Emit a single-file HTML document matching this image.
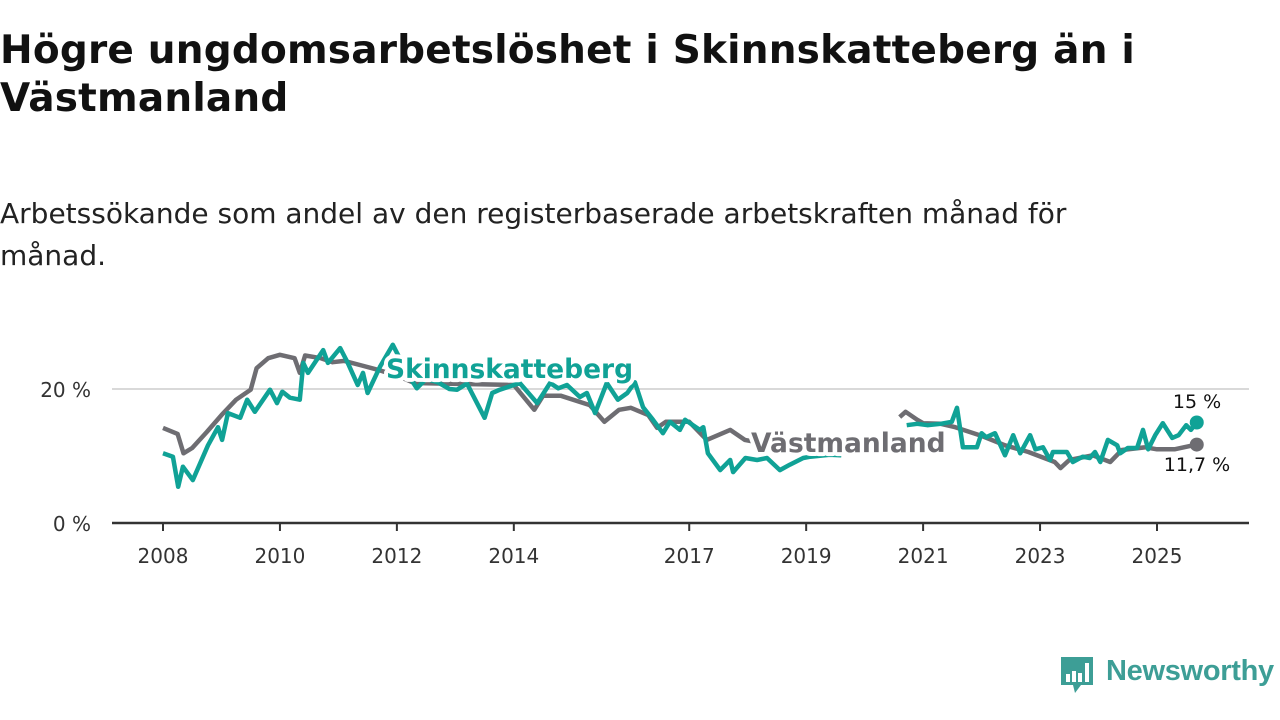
<!DOCTYPE html>
<html><head><meta charset="utf-8">
<style>
body{margin:0;width:1280px;height:720px;background:#fff;overflow:hidden;font-family:"DejaVu Sans","Liberation Sans",sans-serif;}
#title{position:absolute;left:0;top:27px;font-size:39px;font-weight:bold;line-height:48px;color:#111;width:1270px;white-space:nowrap;letter-spacing:0.2px;}
#subtitle{position:absolute;left:0;top:193px;font-size:28px;line-height:42px;color:#222;width:1270px;white-space:nowrap;}
svg{position:absolute;left:0;top:0;}
</style></head>
<body>
<div id="title">Högre ungdomsarbetslöshet i Skinnskatteberg än i<br>Västmanland</div>
<div id="subtitle">Arbetssökande som andel av den registerbaserade arbetskraften månad för<br>månad.</div>
<svg id="chart" width="1280" height="720"></svg>
<script>
const xTicks=[2008,2010,2012,2014,2017,2019,2021,2023,2025];
const yTicks=[0,20];
const yTickLabels=["0 %","20 %"];
const vastT=[2008.0,2008.25,2008.35,2008.5,2008.75,2009.0,2009.25,2009.5,2009.6,2009.8,2010.0,2010.25,2010.34,2010.43,2010.7,2010.9,2011.1,2011.4,2011.7,2012.0,2012.3,2012.8,2013.4,2014.0,2014.35,2014.5,2014.8,2015.3,2015.55,2015.8,2016.0,2016.3,2016.45,2016.6,2017.0,2017.3,2017.7,2017.95,2018.5,2019.0,2019.6,2019.7,2020.6,2020.7,2020.9,2021.0,2021.3,2021.55,2022.0,2022.4,2022.8,2023.25,2023.35,2023.5,2023.9,2024.2,2024.4,2024.8,2025.0,2025.3,2025.68];
const vastV=[14.2,13.3,10.4,11.2,13.6,16.1,18.4,19.9,23.1,24.6,25.1,24.6,22.4,25.0,24.6,24.0,24.2,23.5,22.8,22.0,20.9,20.8,20.7,20.6,16.9,19.0,19.0,17.6,15.1,16.9,17.2,16.1,14.2,15.1,15.1,12.4,13.9,12.4,11.5,10.8,10.1,null,15.8,16.6,15.4,14.9,14.8,14.3,13.0,11.6,10.6,9.1,8.2,9.4,10.1,9.1,10.9,11.3,11.0,11.0,11.7];
const skinT=[2008.0,2008.17,2008.26,2008.34,2008.51,2008.77,2008.94,2009.01,2009.11,2009.32,2009.44,2009.57,2009.83,2009.95,2010.04,2010.17,2010.34,2010.4,2010.48,2010.74,2010.82,2011.03,2011.16,2011.33,2011.42,2011.5,2011.71,2011.93,2012.2,2012.34,2012.5,2012.7,2012.9,2013.03,2013.2,2013.5,2013.63,2013.76,2014.1,2014.4,2014.62,2014.76,2014.91,2015.13,2015.25,2015.39,2015.59,2015.78,2015.94,2016.07,2016.21,2016.38,2016.55,2016.67,2016.84,2016.93,2017.18,2017.24,2017.32,2017.53,2017.7,2017.75,2017.96,2018.16,2018.33,2018.55,2018.72,2018.95,2019.07,2019.4,2019.6,2019.7,2020.72,2020.9,2021.08,2021.3,2021.49,2021.58,2021.68,2021.92,2022.0,2022.08,2022.23,2022.4,2022.54,2022.66,2022.83,2022.92,2023.05,2023.17,2023.22,2023.46,2023.56,2023.73,2023.85,2023.94,2024.03,2024.16,2024.32,2024.37,2024.5,2024.66,2024.76,2024.85,2024.97,2025.1,2025.26,2025.37,2025.5,2025.58,2025.68];
const skinV=[10.4,9.9,5.4,8.4,6.4,11.6,14.3,12.4,16.4,15.7,18.4,16.6,19.9,17.9,19.6,18.7,18.4,23.9,22.4,25.8,23.9,26.1,23.9,20.6,22.4,19.4,23.3,26.6,22.0,20.1,21.5,21.0,20.0,19.9,20.8,15.7,19.4,19.9,20.9,17.9,20.9,20.1,20.6,18.8,19.4,16.4,20.9,18.4,19.4,21.0,17.3,15.4,13.4,15.1,13.9,15.4,13.9,14.3,10.4,7.9,9.4,7.6,9.7,9.4,9.7,7.9,8.7,9.7,9.9,10.2,10.1,null,14.6,14.8,14.6,14.8,15.1,17.2,11.3,11.3,13.4,12.8,13.4,10.1,13.1,10.4,13.1,11.0,11.3,9.4,10.6,10.6,9.1,9.9,9.7,10.6,9.1,12.4,11.6,10.4,11.2,11.2,13.9,11.0,13.1,14.9,12.7,13.1,14.6,13.9,15.0];
const NS="http://www.w3.org/2000/svg";
const svg=document.getElementById('chart');
const X0=163,PX=58.47,Y0=523,PY=6.7;
function xs(t){return X0+(t-2008)*PX;}
function ys(v){return Y0-v*PY;}
function mk(tag,attrs,parent){const e=document.createElementNS(NS,tag);for(const k in attrs)e.setAttribute(k,attrs[k]);(parent||svg).appendChild(e);return e;}
yTicks.forEach((v,i)=>{
  if(v>0){const g=mk('line',{x1:112,x2:1249,y1:ys(v),y2:ys(v),stroke:'#d9d9d9','stroke-width':2});
  
  }
  const t=mk('text',{x:91,y:ys(v)+8,'text-anchor':'end','font-size':20,fill:'#333'});
  t.textContent=yTickLabels[i];
  
  
});
const ax=mk('line',{x1:112,x2:1249,y1:Y0,y2:Y0,stroke:'#333','stroke-width':2.5});


xTicks.forEach(yr=>{
  const tk=mk('line',{x1:xs(yr),x2:xs(yr),y1:Y0,y2:Y0+8,stroke:'#333','stroke-width':2});
  
  
  const t=mk('text',{x:xs(yr),y:563,'text-anchor':'middle','font-size':20,fill:'#333'});
  t.textContent=yr;
  
  
});
function path(T,V){let d='',pen=false;T.forEach((t,i)=>{if(V[i]==null){pen=false;return;}d+=(pen?'L':'M')+xs(t).toFixed(1)+','+ys(V[i]).toFixed(1);pen=true;});return d;}
const gl=mk('path',{d:path(vastT,vastV),fill:'none',stroke:'#6e6d72','stroke-width':4.5,'stroke-linejoin':'round'});


const sl=mk('path',{d:path(skinT,skinV),fill:'none',stroke:'#10a296','stroke-width':4.5,'stroke-linejoin':'round'});


const gE=mk('circle',{cx:xs(vastT[vastT.length-1]),cy:ys(vastV[vastV.length-1]),r:7,fill:'#6e6d72'});


const sE=mk('circle',{cx:xs(skinT[skinT.length-1]),cy:ys(skinV[skinV.length-1]),r:7,fill:'#10a296'});


function lab(x,y,txt,fill,size,bold,anchor,name){
  const t=mk('text',{x:x,y:y,'font-size':size,'font-weight':bold?'bold':'normal',fill:fill,'text-anchor':anchor,stroke:'#fff','stroke-width':8,'paint-order':'stroke','stroke-linejoin':'round'});
  t.textContent=txt;
  
  
}
lab(386,378,'Skinnskatteberg','#10a296',26.5,true,'start','skinnskatteberg-label');
lab(751,452,'Västmanland','#6e6d72',26.5,true,'start','vastmanland-label');
lab(1197,408,'15 %','#111',19,false,'middle','skinnskatteberg-value-label');
lab(1197,471,'11,7 %','#111',19,false,'middle','vastmanland-value-label');
</script>
<div style="position:absolute;left:1059px;top:655px;width:220px;height:42px;">
<svg width="40" height="42" style="position:absolute;left:0;top:0">
<path d="M2 2 H34 V30 H22 L16 38 L14 30 H2 Z" fill="#3d9e96"/>
<rect x="7" y="19" width="4" height="8" fill="#fff"/><rect x="13" y="16" width="4" height="11" fill="#fff"/><rect x="19" y="18" width="4" height="9" fill="#fff"/><rect x="26" y="8" width="4" height="19" fill="#fff"/>
</svg>
<div style="position:absolute;left:47px;top:0px;font-size:29px;font-weight:bold;color:#3d9e96;letter-spacing:-0.3px;font-family:'Liberation Sans',sans-serif">Newsworthy</div>
</div>
</body></html>
